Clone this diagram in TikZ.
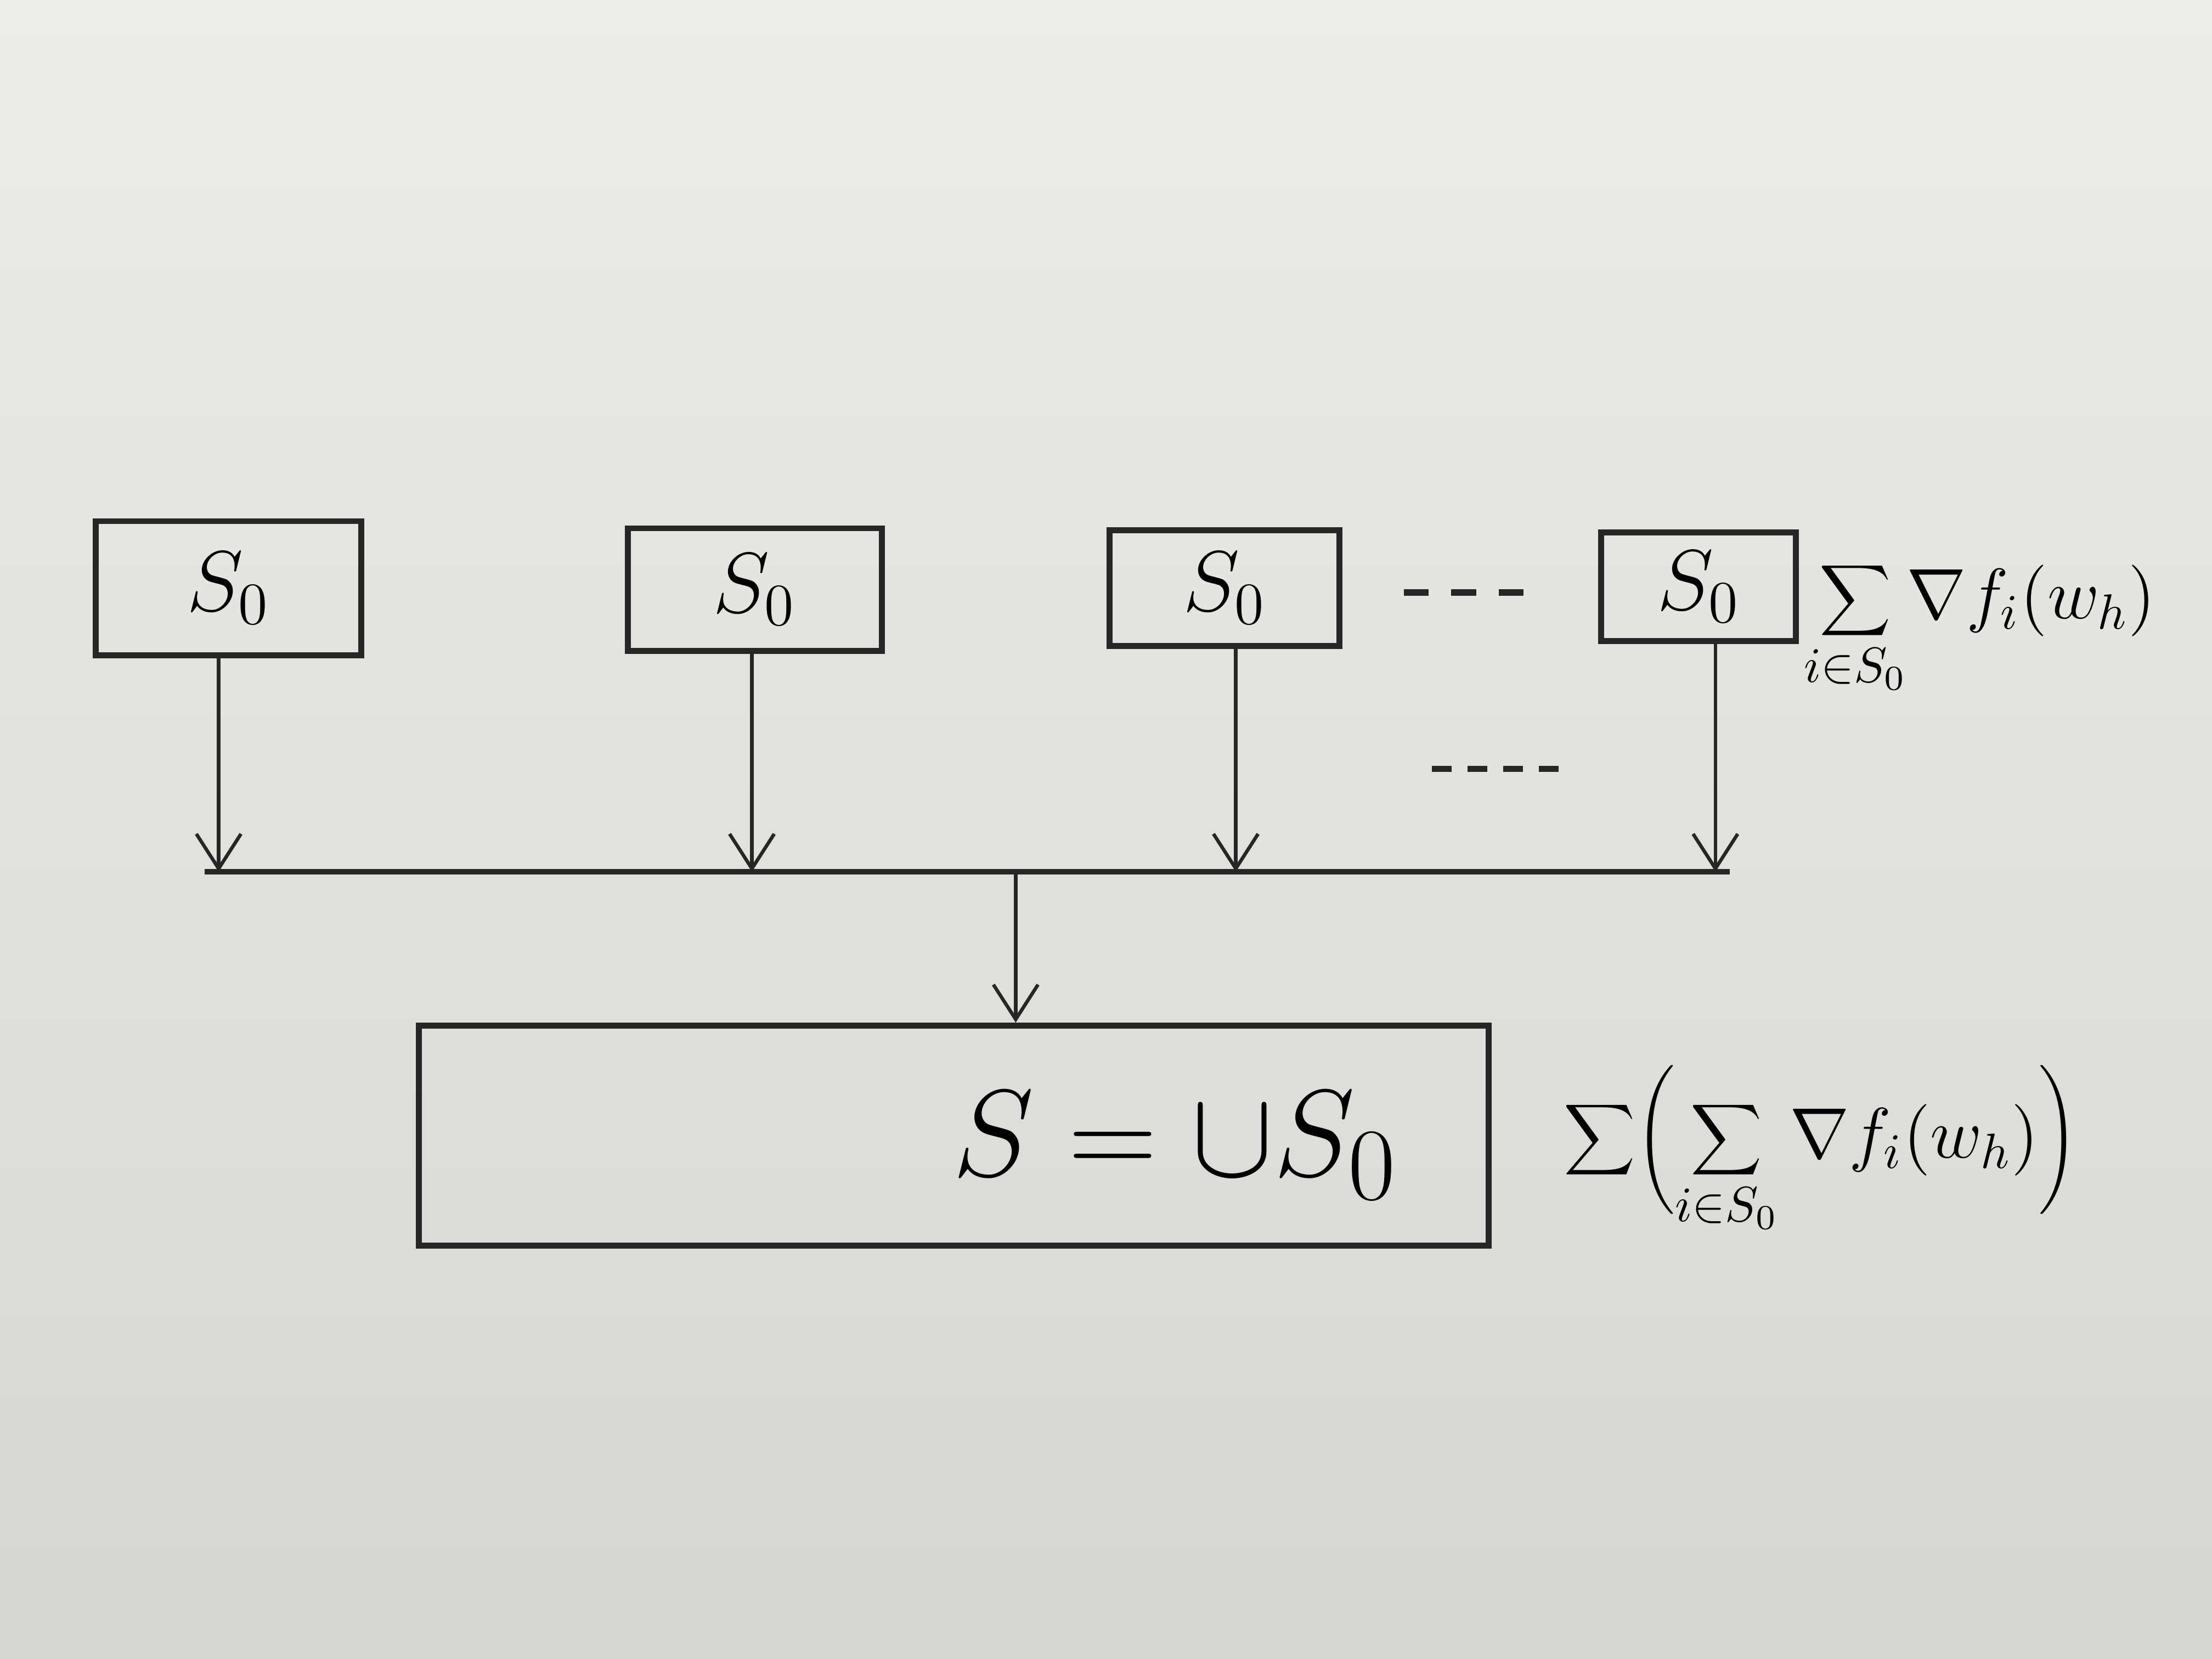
\documentclass[tikz,border=0pt]{standalone}
\usetikzlibrary{arrows.meta}
\begin{document}
\begin{tikzpicture}[x=0.01cm,y=-0.01cm,
  box/.style={draw=black!85,line width=1.2pt,inner sep=0pt},
  arr/.style={draw=black!85,line width=0.7pt,-{Straight Barb[length=7pt,width=9pt,line width=0.7pt]}},
  bus/.style={draw=black!85,line width=1.1pt},
  dotsA/.style={draw=black!85,line width=1.3pt,dash pattern=on 5pt off 4.6pt},
  dotsB/.style={draw=black!85,line width=1.3pt,dash pattern=on 4pt off 3.2pt},
  lbl/.style={font=\fontsize{17}{20}\selectfont},
  frm/.style={font=\fontsize{14}{17}\selectfont,inner sep=0pt,anchor=west}]
\shade[top color={rgb,255:red,236;green,236;blue,233},bottom color={rgb,255:red,214;green,214;blue,211}] (0,0) rectangle (1568,1176);
\useasboundingbox (0,0) rectangle (1568,1176);

\node[box,minimum width=1.88cm,minimum height=0.95cm] (b1) at (162,417) {};
\node[box,minimum width=1.80cm,minimum height=0.87cm] (b2) at (535,418) {};
\node[box,minimum width=1.63cm,minimum height=0.82cm] (b3) at (868,417) {};
\node[box,minimum width=1.38cm,minimum height=0.77cm] (b4) at (1204,416) {};
\node[lbl] (t1) at (b1) {$S_0$};
\node[lbl] (t2) at (b2) {$S_0$};
\node[lbl] (t3) at (b3) {$S_0$};
\node[lbl] (t4) at (b4) {$S_0$};

\coordinate (d1a) at (995,420); \coordinate (d1b) at (1080,420);
\draw[dotsA] (d1a) -- (d1b);
\coordinate (d2a) at (1015,545); \coordinate (d2b) at (1105,545);
\draw[dotsB] (d2a) -- (d2b);

\node[frm] (f1) at (1278,445) {$\displaystyle\sum_{i\in S_0}\!\nabla f_i(w_h)$};

\coordinate (busL) at (145,618); \coordinate (busR) at (1226,618);
\coordinate (j1) at (155,618); \coordinate (j2) at (533,618);
\coordinate (j3) at (876,618); \coordinate (j4) at (1216,618);
\coordinate (jm) at (720,618);
\draw[bus] (busL) -- (busR);
\draw[arr] (b1.south -| j1) -- (j1);
\draw[arr] (b2.south -| j2) -- (j2);
\draw[arr] (b3.south -| j3) -- (j3);
\draw[arr] (b4.south -| j4) -- (j4);

\node[box,minimum width=7.58cm,minimum height=1.56cm] (big) at (676,805) {};
\draw[arr] (jm) -- (big.north -| jm);
\node[font=\fontsize{28}{34}\selectfont] (bt) at (833,812) {$S=\cup S_0$};

\node[frm] (f2) at (1108,815) {$\displaystyle\sum\Biggl(\sum_{i\in S_0}\nabla f_i(w_h)\Biggr)$};
\end{tikzpicture}
\end{document}
